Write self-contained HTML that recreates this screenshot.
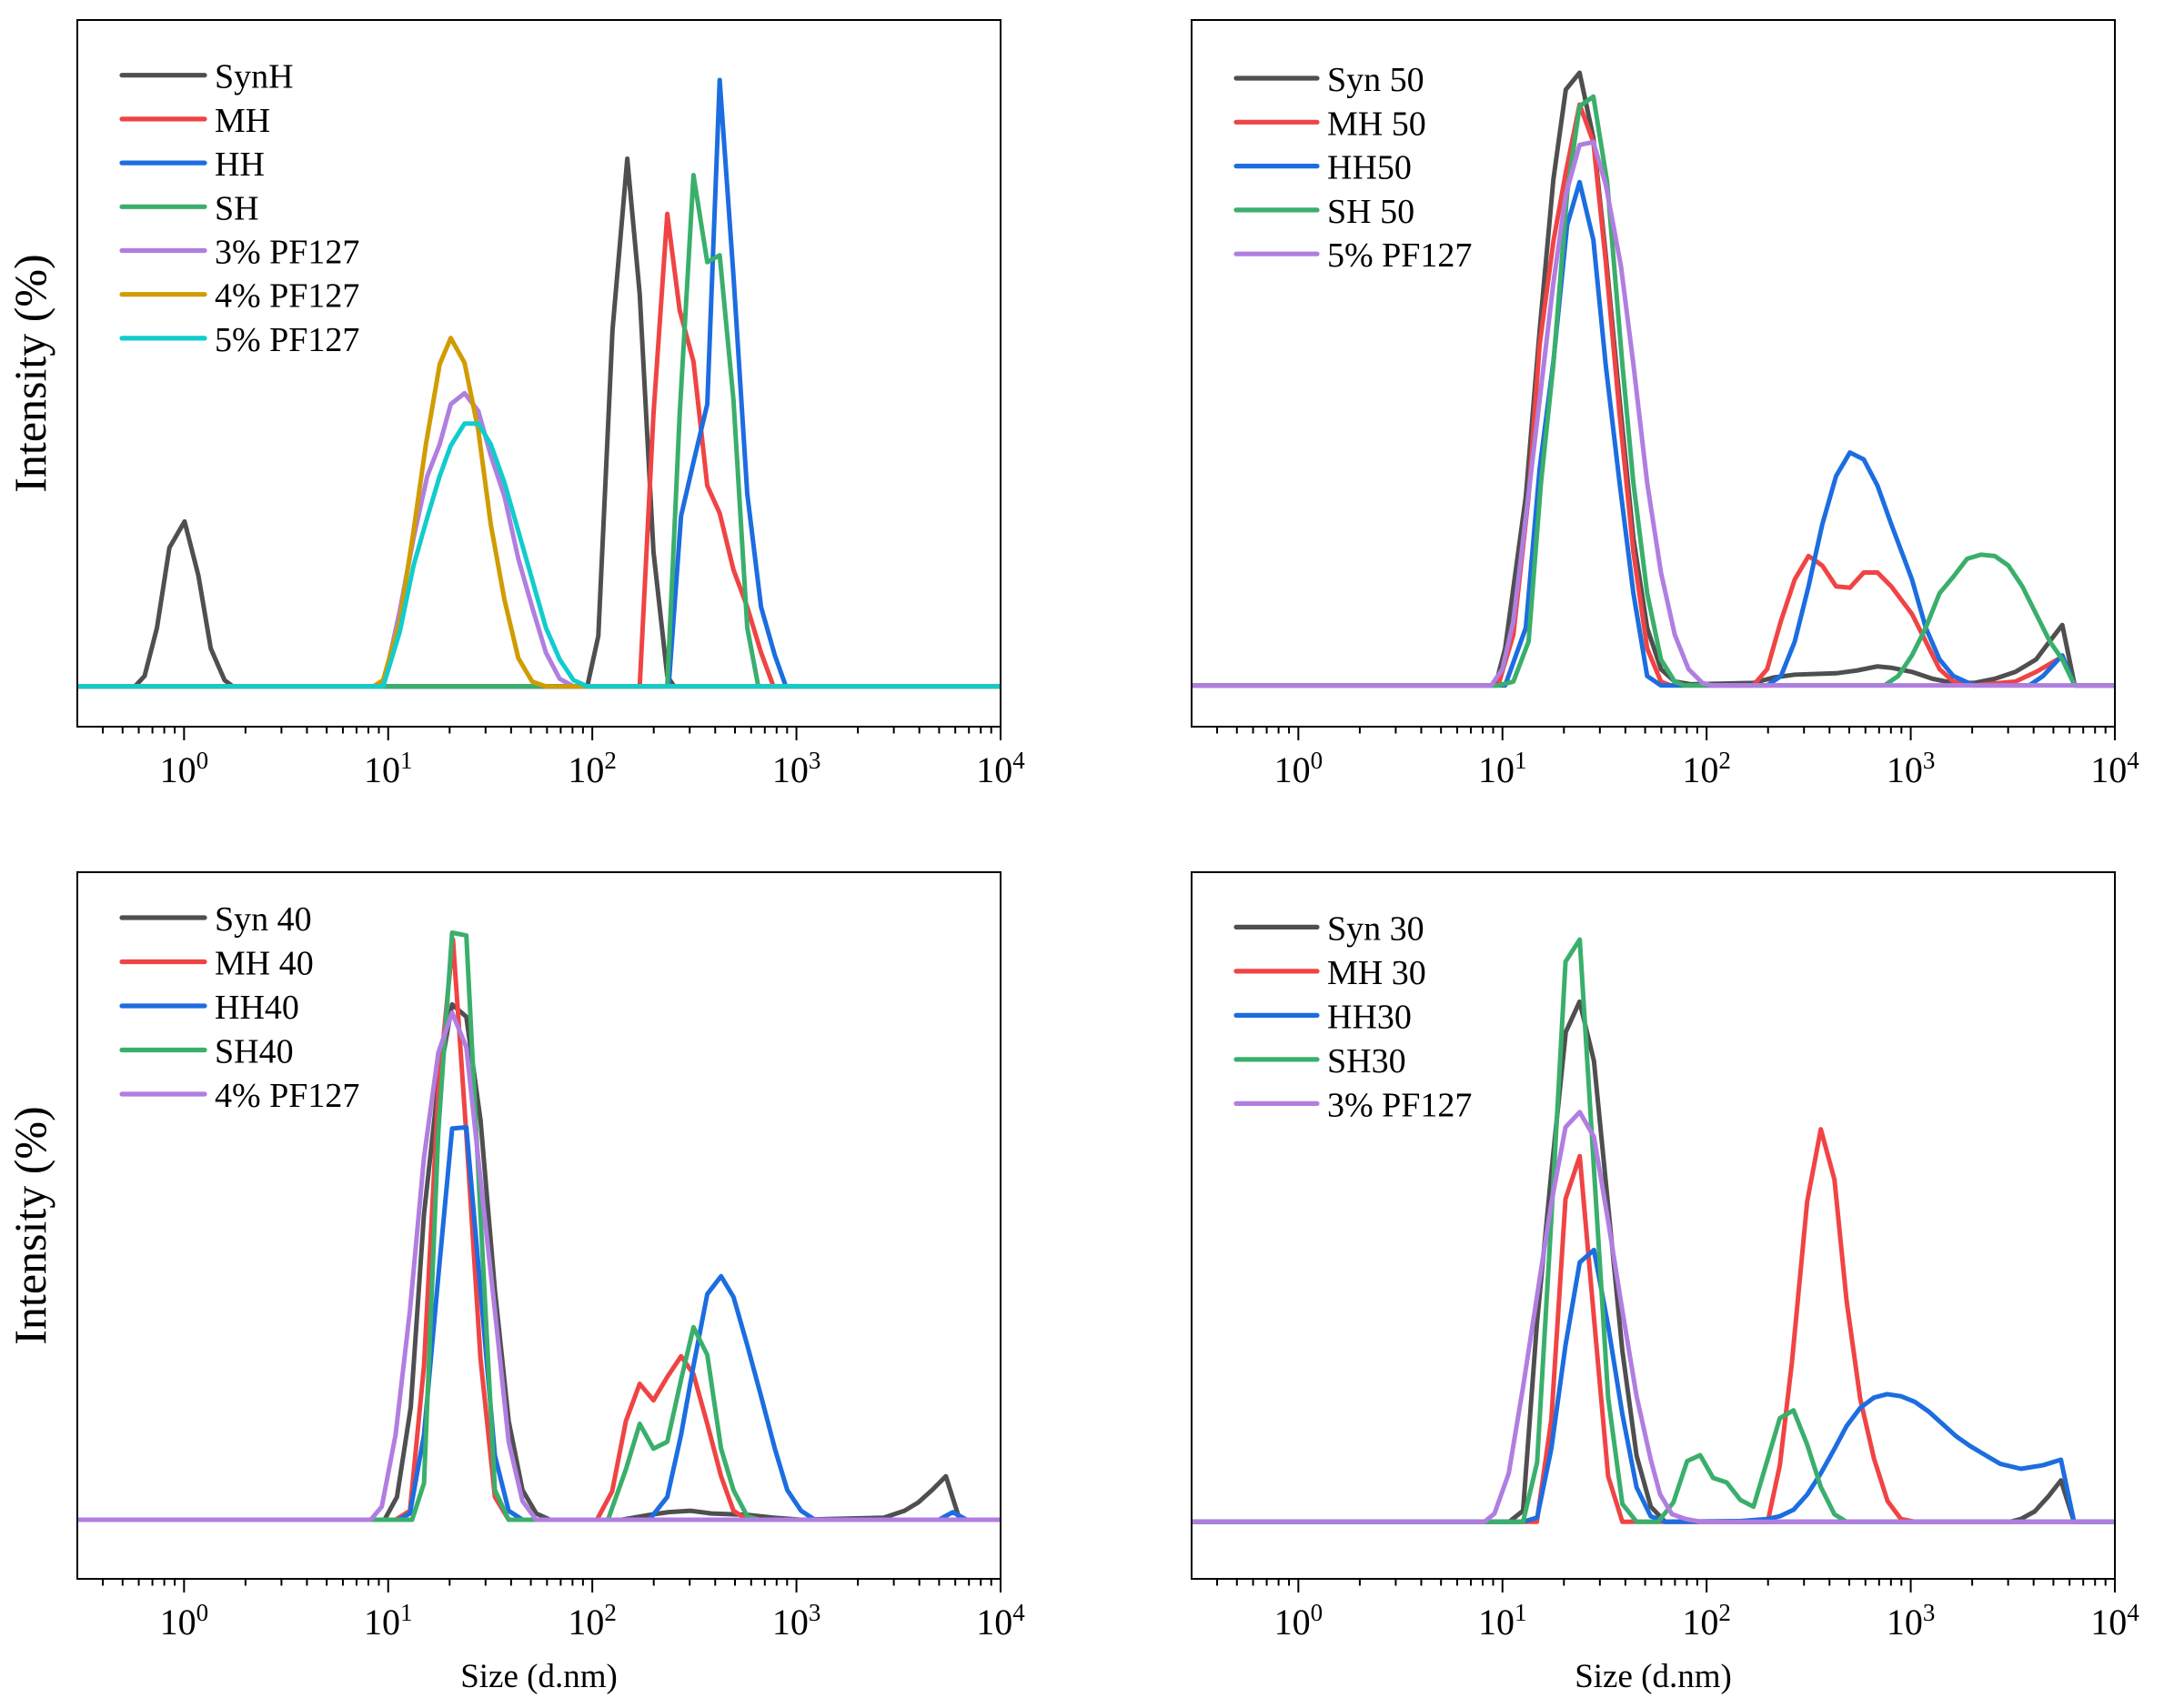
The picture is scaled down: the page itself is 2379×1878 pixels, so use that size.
<!DOCTYPE html>
<html>
<head>
<meta charset="utf-8">
<style>
  html,body{margin:0;padding:0;background:#fff;}
  svg{display:block;}
  text{font-family:"Liberation Serif","Times New Roman",serif;fill:#000;}
  .s{fill:none;stroke-width:5;stroke-linejoin:round;stroke-linecap:round;vector-effect:non-scaling-stroke;}
  .lg{stroke-width:5.2;stroke-linecap:round;}
  .gy{stroke:#4f4f4f;} .rd{stroke:#f04444;} .bl{stroke:#1c6de0;} .gn{stroke:#3aaf6c;}
  .pu{stroke:#b07ee0;} .go{stroke:#d09c00;} .cy{stroke:#12cccc;}
  .lt{font-size:38px;}
  .tk{font-size:40px;}
  .tk tspan{font-size:27px;}
</style>
</head>
<body>
<svg width="2379" height="1878" viewBox="0 0 2379 1878" xmlns="http://www.w3.org/2000/svg">
<rect x="0" y="0" width="2379" height="1878" fill="#fff"/>
<defs>
  <path id="ticks" fill="none" stroke="#000" stroke-width="2" d="M117.34,0v15M341.75,0v15M566.16,0v15M790.57,0v15M1014.98,0v15
  M28.04,0v7.5M49.79,0v7.5M67.55,0v7.5M82.58,0v7.5M95.59,0v7.5M107.07,0v7.5
  M184.89,0v7.5M224.41,0v7.5M252.44,0v7.5M274.19,0v7.5M291.95,0v7.5M306.98,0v7.5M319.99,0v7.5M331.47,0v7.5
  M409.30,0v7.5M448.82,0v7.5M476.85,0v7.5M498.60,0v7.5M516.36,0v7.5M531.39,0v7.5M544.40,0v7.5M555.88,0v7.5
  M633.71,0v7.5M673.23,0v7.5M701.26,0v7.5M723.01,0v7.5M740.77,0v7.5M755.80,0v7.5M768.81,0v7.5M780.29,0v7.5
  M858.12,0v7.5M897.64,0v7.5M925.67,0v7.5M947.42,0v7.5M965.18,0v7.5M980.21,0v7.5M993.22,0v7.5M1004.70,0v7.5"/>
  <clipPath id="cTL"><rect x="85" y="22" width="1015" height="777"/></clipPath>
  <clipPath id="cTR"><rect x="1310" y="22" width="1015" height="777"/></clipPath>
  <clipPath id="cBL"><rect x="85" y="959" width="1015" height="777"/></clipPath>
  <clipPath id="cBR"><rect x="1310" y="959" width="1015" height="777"/></clipPath>
</defs>

<!-- ================= TOP LEFT ================= -->
<g clip-path="url(#cTL)">
<g transform="matrix(1.5162 0 0 1.517 1.25 0)">
<path class="s gy" d="M55,497.5 L97,497.5 L104,490 L113,455 L122,397 L133,378 L143,417 L152,470 L162,493 L168,497.5 L425,497.5 L433,461 L443.3,239 L454,115 L463,213 L473,400 L483,490 L488,497.5 L725,497.5"/>
<path class="s rd" d="M55,497.5 L463,497.5 L473,300 L483,155 L492,225 L502,262 L512,352 L521,372 L531,413 L541,440 L551,473 L560,497.5 L725,497.5"/>
<path class="s bl" d="M55,497.5 L484,497.5 L493,374 L502,335 L512,293 L521,58 L531,200 L541,358 L551,440 L561,475 L569,497.5 L725,497.5"/>
<path class="s gn" d="M55,497.5 L483,497.5 L492,300 L502,127 L512,190 L521,185 L531,290 L541,455 L549,497.5 L725,497.5"/>
<path class="s pu" d="M55,497.5 L277,497.5 L289,443 L299,390 L309,345 L318,322 L326,293 L336,285 L346,298 L355,330 L365,360 L375,405 L385,440 L395,473 L405,492 L415,497.5 L725,497.5"/>
<path class="s go" d="M55,497.5 L270,497.5 L277,493 L289,450 L299,385 L308,322 L318,264 L326,245 L336,263 L346,312 L355,380 L365,435 L375,477 L385,494 L395,497.5 L725,497.5"/>
<path class="s cy" d="M55,497.5 L277,497.5 L289,458 L299,410 L309,375 L318,345 L326,323 L336,307 L346,307 L355,322 L365,350 L375,385 L385,420 L395,455 L405,478 L415,493 L425,497.5 L725,497.5"/>
</g>
</g>
<rect x="85" y="22" width="1015" height="777" fill="none" stroke="#000" stroke-width="2"/>
<use href="#ticks" transform="translate(85,799)"/>
<g class="tk" text-anchor="middle">
<text x="202.34" y="860">10<tspan dy="-15">0</tspan></text>
<text x="426.75" y="860">10<tspan dy="-15">1</tspan></text>
<text x="651.16" y="860">10<tspan dy="-15">2</tspan></text>
<text x="875.57" y="860">10<tspan dy="-15">3</tspan></text>
<text x="1099.98" y="860">10<tspan dy="-15">4</tspan></text>
</g>
<text transform="translate(50,410.5) rotate(-90)" text-anchor="middle" font-size="50">Intensity (%)</text>
<g>
<line class="lg gy" x1="134" y1="82.7" x2="225" y2="82.7"/><text class="lt" x="236" y="96.7">SynH</text>
<line class="lg rd" x1="134" y1="130.9" x2="225" y2="130.9"/><text class="lt" x="236" y="144.9">MH</text>
<line class="lg bl" x1="134" y1="179.1" x2="225" y2="179.1"/><text class="lt" x="236" y="193.1">HH</text>
<line class="lg gn" x1="134" y1="227.3" x2="225" y2="227.3"/><text class="lt" x="236" y="241.3">SH</text>
<line class="lg pu" x1="134" y1="275.5" x2="225" y2="275.5"/><text class="lt" x="236" y="289.5">3% PF127</text>
<line class="lg go" x1="134" y1="323.7" x2="225" y2="323.7"/><text class="lt" x="236" y="337.7">4% PF127</text>
<line class="lg cy" x1="134" y1="371.9" x2="225" y2="371.9"/><text class="lt" x="236" y="385.9">5% PF127</text>
</g>

<!-- ================= TOP RIGHT ================= -->
<g clip-path="url(#cTR)">
<g transform="matrix(1.5162 0 0 1.517 2 0)">
<path class="s gy" d="M862,496.8 L1083,496.8 L1090,470 L1105,360 L1115,240 L1125,130 L1134,65 L1144,52.7 L1154,100 L1163,185 L1173,290 L1183,390 L1193,455 L1203,485 L1213,494 L1225,496 L1270,495 L1285,491 L1300,489 L1330,488 L1345,486 L1360,483 L1370,484 L1385,487 L1400,492 L1415,495 L1430,495 L1445,492 L1460,487 L1475,478 L1484,466 L1494,453 L1503,496.8 L1532,496.8"/>
<path class="s rd" d="M862,496.8 L1085,496.8 L1096,460 L1107,360 L1115,250 L1125,175 L1134,125 L1144,75.8 L1154,103 L1163,190 L1173,300 L1183,400 L1193,470 L1203,494 L1210,496.8 L1270,496.8 L1280,485 L1290,450 L1300,420 L1310,403 L1320,410 L1330,425 L1340,426 L1350,415 L1360,415 L1370,425 L1385,445 L1395,465 L1405,485 L1415,494 L1430,496.8 L1460,494 L1475,487 L1494,476 L1503,496.8 L1532,496.8"/>
<path class="s bl" d="M862,496.8 L1090,496.8 L1105,455 L1115,340 L1125,262 L1135,163 L1144,132 L1154,174 L1163,265 L1173,350 L1183,430 L1193,490 L1203,496.8 L1280,496.8 L1290,490 L1300,465 L1310,425 L1320,380 L1330,345 L1340,328 L1350,333 L1360,352 L1370,380 L1385,420 L1395,455 L1405,478 L1415,490 L1430,496.8 L1470,496.8 L1480,490 L1494,475 L1503,496.8 L1532,496.8"/>
<path class="s gn" d="M862,496.8 L1085,496.8 L1096,494 L1107,465 L1116,350 L1125,264 L1135,140 L1144,77 L1154,70 L1164,132 L1175,264 L1183,350 L1193,430 L1203,478 L1213,494 L1220,496.8 L1365,496.8 L1375,490 L1385,475 L1395,455 L1405,430 L1415,418 L1425,405 L1435,402 L1445,403 L1455,410 L1465,425 L1475,445 L1485,465 L1494,478 L1503,496.8 L1532,496.8"/>
<path class="s pu" d="M862,496.8 L1080,496.8 L1088,485 L1096,450 L1105,375 L1115,290 L1125,205 L1134,141 L1144,105 L1154,103 L1163,134 L1174,193 L1183,264 L1193,350 L1203,415 L1213,460 L1223,485 L1233,495 L1240,496.8 L1532,496.8"/>
</g>
</g>
<rect x="1310" y="22" width="1015" height="777" fill="none" stroke="#000" stroke-width="2"/>
<use href="#ticks" transform="translate(1310,799)"/>
<g class="tk" text-anchor="middle">
<text x="1427.34" y="860">10<tspan dy="-15">0</tspan></text>
<text x="1651.75" y="860">10<tspan dy="-15">1</tspan></text>
<text x="1876.16" y="860">10<tspan dy="-15">2</tspan></text>
<text x="2100.57" y="860">10<tspan dy="-15">3</tspan></text>
<text x="2324.98" y="860">10<tspan dy="-15">4</tspan></text>
</g>
<g>
<line class="lg gy" x1="1359" y1="86" x2="1448" y2="86"/><text class="lt" x="1459" y="100">Syn 50</text>
<line class="lg rd" x1="1359" y1="134.3" x2="1448" y2="134.3"/><text class="lt" x="1459" y="148.3">MH 50</text>
<line class="lg bl" x1="1359" y1="182.6" x2="1448" y2="182.6"/><text class="lt" x="1459" y="196.6">HH50</text>
<line class="lg gn" x1="1359" y1="230.9" x2="1448" y2="230.9"/><text class="lt" x="1459" y="244.9">SH 50</text>
<line class="lg pu" x1="1359" y1="279.2" x2="1448" y2="279.2"/><text class="lt" x="1459" y="293.2">5% PF127</text>
</g>

<!-- ================= BOTTOM LEFT ================= -->
<g clip-path="url(#cBL)">
<g transform="matrix(1.5162 0 0 1.517 1.25 0)">
<path class="s gy" d="M55,1101.5 L278,1101.5 L287,1085 L297,1020 L306.6,880 L317,785 L327,728 L337.3,737 L347.6,812 L358,935 L368,1030 L378,1080 L388,1097 L398,1101.5 L450,1101.5 L470,1098 L484,1096 L500,1095 L515,1097 L541,1098 L560,1100 L580,1101.5 L640,1100 L655,1095 L665,1089 L675,1080 L685,1070 L695,1101.5 L725,1101.5"/>
<path class="s rd" d="M55,1101.5 L286,1101.5 L296.4,1095 L306.6,990 L317,791 L327.6,681 L337.3,822 L347.6,985 L358,1085 L368,1101.5 L432,1101.5 L443,1081 L453,1030 L463,1003 L473,1015 L483,998 L493,983 L502,996 L512,1032 L522,1070 L531,1095 L541,1101.5 L725,1101.5"/>
<path class="s bl" d="M55,1101.5 L288,1101.5 L296.4,1097 L306.6,1040 L317,925 L327,818 L337.3,817 L347.6,935 L358,1055 L368,1095 L378,1101.5 L470,1101.5 L483,1085 L493,1040 L502,990 L512,938 L522,925 L531,940 L541,975 L551,1012 L561,1050 L570,1080 L580,1095 L590,1101.5 L680,1101.5 L690,1096 L700,1101.5 L725,1101.5"/>
<path class="s gn" d="M55,1101.5 L298,1101.5 L306.6,1075 L317,820 L327,676 L337.3,678 L347.6,881 L358,1080 L368,1101.5 L440,1101.5 L453,1065 L463,1032 L473,1050 L483,1045 L493,1000 L502,962 L512,982 L522,1050 L531,1080 L541,1099 L550,1101.5 L725,1101.5"/>
<path class="s pu" d="M55,1101.5 L268,1101.5 L276,1092 L286,1040 L296.4,950 L306.6,839 L317,763 L327,734 L337.3,759 L347.6,855 L358,950 L368,1045 L378,1088 L388,1101.5 L725,1101.5"/>
</g>
</g>
<rect x="85" y="959" width="1015" height="777" fill="none" stroke="#000" stroke-width="2"/>
<use href="#ticks" transform="translate(85,1736)"/>
<g class="tk" text-anchor="middle">
<text x="202.34" y="1797">10<tspan dy="-15">0</tspan></text>
<text x="426.75" y="1797">10<tspan dy="-15">1</tspan></text>
<text x="651.16" y="1797">10<tspan dy="-15">2</tspan></text>
<text x="875.57" y="1797">10<tspan dy="-15">3</tspan></text>
<text x="1099.98" y="1797">10<tspan dy="-15">4</tspan></text>
</g>
<text transform="translate(50,1347.5) rotate(-90)" text-anchor="middle" font-size="50">Intensity (%)</text>
<text x="592.5" y="1855" text-anchor="middle" font-size="37">Size (d.nm)</text>
<g>
<line class="lg gy" x1="134" y1="1009" x2="225" y2="1009"/><text class="lt" x="236" y="1023">Syn 40</text>
<line class="lg rd" x1="134" y1="1057.5" x2="225" y2="1057.5"/><text class="lt" x="236" y="1071.5">MH 40</text>
<line class="lg bl" x1="134" y1="1106" x2="225" y2="1106"/><text class="lt" x="236" y="1120">HH40</text>
<line class="lg gn" x1="134" y1="1154.5" x2="225" y2="1154.5"/><text class="lt" x="236" y="1168.5">SH40</text>
<line class="lg pu" x1="134" y1="1203" x2="225" y2="1203"/><text class="lt" x="236" y="1217">4% PF127</text>
</g>

<!-- ================= BOTTOM RIGHT ================= -->
<g clip-path="url(#cBR)">
<g transform="matrix(1.5162 0 0 1.517 2 0)">
<path class="s gy" d="M862,1103 L1093,1103 L1103,1095 L1113,960 L1123.5,850 L1134,748 L1144,726 L1154.4,769 L1164.7,874 L1175,979 L1185.3,1055 L1195.6,1092 L1206,1103 L1456,1103 L1464,1101 L1474,1095.5 L1484,1084.5 L1493,1073 L1502.5,1103 L1532,1103"/>
<path class="s rd" d="M862,1103 L1113,1103 L1123.5,1029 L1133.8,869 L1144.1,838 L1154.4,955 L1164.7,1070 L1175,1103 L1280.4,1103 L1289.2,1062 L1298,987 L1309,871 L1318.9,818.5 L1328.8,855 L1337.6,943 L1347.5,1014 L1357.4,1057 L1367.3,1088 L1377,1101 L1387,1103 L1532,1103"/>
<path class="s bl" d="M862,1103 L1103,1103 L1113.2,1100 L1123.5,1050 L1133.8,975 L1144.1,915 L1154.4,906 L1164.7,961 L1175,1025 L1185.3,1078 L1195.6,1099 L1206,1103 L1260,1102.5 L1280,1101 L1289.2,1099 L1299.1,1094.3 L1309,1083.3 L1318.9,1067.9 L1328.8,1050.1 L1337.6,1033.6 L1347.5,1020.4 L1357.4,1013 L1367,1010.5 L1377,1012 L1387,1016 L1397,1023 L1407,1032 L1417,1041 L1427,1048 L1437,1054 L1449,1061 L1464,1064.6 L1480,1062 L1493,1058 L1502.5,1103 L1532,1103"/>
<path class="s gn" d="M862,1103 L1103,1103 L1113.2,1060 L1123.5,884 L1133.8,697 L1144.1,681 L1154.4,847 L1164.7,1013 L1175,1090 L1185.3,1103 L1201,1103 L1212,1089 L1222,1059 L1231.4,1054.7 L1240.8,1071.2 L1250.7,1074.5 L1260.6,1087.2 L1270.1,1092.1 L1289.2,1027.9 L1299.1,1022.2 L1309,1047 L1318.9,1077.8 L1328.8,1097.6 L1337.5,1103 L1532,1103"/>
<path class="s pu" d="M862,1103 L1075,1103 L1082.3,1097 L1092.6,1068 L1102.9,1006 L1113.2,939 L1123.5,872 L1133.8,817 L1144.1,806 L1154.4,824 L1164.7,885 L1175,950 L1185.3,1012 L1195.6,1058 L1202.3,1083 L1211,1097.5 L1221,1101 L1232,1103 L1532,1103"/>
</g>
</g>
<rect x="1310" y="959" width="1015" height="777" fill="none" stroke="#000" stroke-width="2"/>
<use href="#ticks" transform="translate(1310,1736)"/>
<g class="tk" text-anchor="middle">
<text x="1427.34" y="1797">10<tspan dy="-15">0</tspan></text>
<text x="1651.75" y="1797">10<tspan dy="-15">1</tspan></text>
<text x="1876.16" y="1797">10<tspan dy="-15">2</tspan></text>
<text x="2100.57" y="1797">10<tspan dy="-15">3</tspan></text>
<text x="2324.98" y="1797">10<tspan dy="-15">4</tspan></text>
</g>
<text x="1817.5" y="1855" text-anchor="middle" font-size="37">Size (d.nm)</text>
<g>
<line class="lg gy" x1="1359" y1="1019.4" x2="1448" y2="1019.4"/><text class="lt" x="1459" y="1033.4">Syn 30</text>
<line class="lg rd" x1="1359" y1="1067.9" x2="1448" y2="1067.9"/><text class="lt" x="1459" y="1081.9">MH 30</text>
<line class="lg bl" x1="1359" y1="1116.4" x2="1448" y2="1116.4"/><text class="lt" x="1459" y="1130.4">HH30</text>
<line class="lg gn" x1="1359" y1="1164.9" x2="1448" y2="1164.9"/><text class="lt" x="1459" y="1178.9">SH30</text>
<line class="lg pu" x1="1359" y1="1213.4" x2="1448" y2="1213.4"/><text class="lt" x="1459" y="1227.4">3% PF127</text>
</g>
</svg>
</body>
</html>
